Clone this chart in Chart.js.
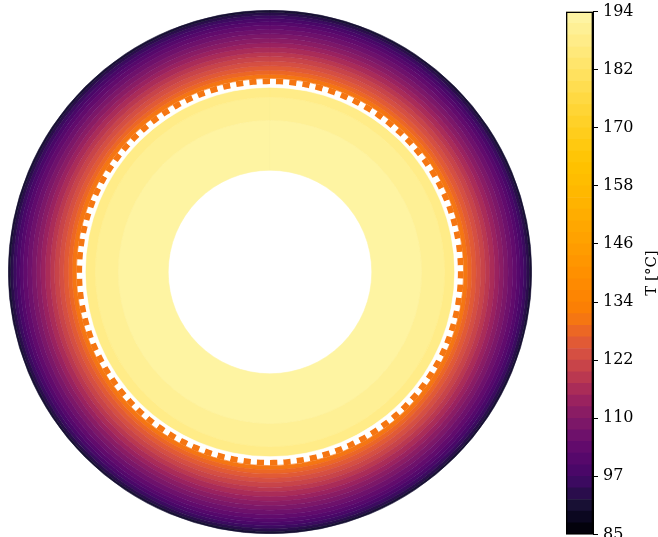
<!DOCTYPE html>
<html>
<head>
<meta charset="utf-8">
<script src="https://cdn.jsdelivr.net/npm/chart.js@4.4.1/dist/chart.umd.min.js"></script>
<style>
  html, body { margin:0; padding:0; background:#fff; overflow:hidden; width:658px; height:537px; }
  #disc { position:absolute; left:8px; top:10px; }
  #cbar { position:absolute; left:566px; top:-3px; }
</style>
</head>
<body>
<canvas id="disc" width="524" height="524"></canvas>
<canvas id="cbar" width="92" height="552"></canvas>
<script>
// contour levels of the temperature field, °C
const levels = [85.00, 87.42, 89.84, 92.27, 94.69, 97.11, 99.53, 101.96, 104.38, 106.80,
  109.22, 111.64, 114.07, 116.49, 118.91, 121.33, 123.76, 126.18, 128.60, 131.02,
  133.44, 135.87, 138.29, 140.71, 143.13, 145.56, 147.98, 150.40, 152.82, 155.24,
  157.67, 160.09, 162.51, 164.93, 167.36, 169.78, 172.20, 174.62, 177.04, 179.47,
  181.89, 184.31, 186.73, 189.16, 191.58, 194.00];
// one colour per band, bottom to top
const bandColors = ['#03020c', '#0b0720', '#181034', '#2a0d4c', '#3c0a60', '#4a0768', '#56086b', '#620b6c',
  '#6e116b', '#7c1768', '#8a1c64', '#9a225f', '#aa2c58', '#ba3850', '#c84449', '#d54f42',
  '#e15a35', '#ec6724', '#f57612', '#fb7f05', '#fd8502', '#fe8a01', '#ff9000', '#ff9600',
  '#ff9c00', '#ffa200', '#ffa700', '#ffad00', '#ffb300', '#ffb800', '#ffbd00', '#ffc100',
  '#ffc506', '#ffc910', '#ffcd1c', '#ffd128', '#ffd535', '#ffd942', '#ffdd50', '#ffe15e',
  '#ffe56c', '#ffe97a', '#ffec88', '#fef095', '#fef4a2'];
const tickValues = [85, 97.11, 109.22, 121.33, 133.44, 145.56, 157.67, 169.78, 181.89, 194];
const tickLabels = ['85', '97', '110', '122', '134', '146', '158', '170', '182', '194'];

// radial layout of the section, mm from the centre
const boreRadius = 38.9;
const coreEdges = [38.9, 58.0, 66.8, 70.6];
const coreTemps = [192.5, 190.0, 187.5];
const sleeveEdges = [70.6, 71.8, 74.0];      // thin white line, then the toothed ring
const toothCount = 90;
const toothGapTemp = 129.8;
const shellEdges = [74.0, 75.6, 77.1, 78.8, 80.5, 82.3, 84.0, 85.9, 87.6, 89.3,
  91.0, 92.7, 94.3, 95.6, 96.9, 98.1, 99.2, 100.0];
const shellTemps = [129.8, 127.4, 125.0, 122.5, 120.1, 117.7, 115.3, 112.8, 110.4,
  108.0, 105.6, 103.2, 100.7, 98.3, 95.9, 93.5, 91.0];

function colorFor(t) {
  for (let i = 0; i < bandColors.length; i++) {
    if (t < levels[i + 1]) return bandColors[i];
  }
  return bandColors[bandColors.length - 1];
}

function ring(rIn, rOut, color) {
  return { data: [1], backgroundColor: color, borderColor: color, borderWidth: 0.6, weight: rOut - rIn };
}

// ---------- disc ----------
const rings = [];   // outermost first
for (let i = shellTemps.length - 1; i >= 0; i--)
  rings.push(ring(shellEdges[i], shellEdges[i + 1], colorFor(shellTemps[i])));

const teeth = [], teethColors = [];
for (let i = 0; i < toothCount; i++) {
  teeth.push(0.45, 0.55);
  teethColors.push('#ffffff', colorFor(toothGapTemp));
}
rings.push({ data: teeth, backgroundColor: teethColors, borderWidth: 0, weight: sleeveEdges[2] - sleeveEdges[1] });
rings.push(ring(sleeveEdges[0], sleeveEdges[1], '#ffffff'));

for (let i = coreTemps.length - 1; i >= 0; i--)
  rings.push(ring(coreEdges[i], coreEdges[i + 1], colorFor(coreTemps[i])));

new Chart(document.getElementById('disc'), {
  type: 'doughnut',
  data: { datasets: rings },
  options: {
    responsive: false, animation: false, events: [],
    cutout: (boreRadius / shellEdges[shellEdges.length - 1] * 100) + '%',
    layout: { padding: 0 },
    plugins: { legend: { display: false }, tooltip: { enabled: false } }
  }
});

// ---------- colour bar ----------
const serif = 'DejaVu Serif';
const cbarSets = [{
  data: [[levels[0], levels[levels.length - 1]]],
  backgroundColor: 'rgba(0,0,0,0)', borderColor: '#000', borderWidth: 1, borderSkipped: false,
  grouped: false, barPercentage: 1, categoryPercentage: 1
}];
bandColors.forEach((c, i) => cbarSets.push({
  data: [[levels[i], levels[i + 1]]], backgroundColor: c, borderWidth: 0,
  grouped: false, barPercentage: 1, categoryPercentage: 1
}));

const cbarTitle = {
  id: 'cbarTitle',
  afterDraw(chart) {
    const y = chart.scales.y, ctx = chart.ctx;
    ctx.save();
    ctx.font = '15px "' + serif + '"';
    ctx.fillStyle = '#000';
    ctx.textAlign = 'center';
    ctx.textBaseline = 'middle';
    ctx.translate(y.right + 18, (chart.chartArea.top + chart.chartArea.bottom) / 2);
    ctx.rotate(-Math.PI / 2);
    ctx.fillText('T [°C]', 0, 0);
    ctx.restore();
  }
};

new Chart(document.getElementById('cbar'), {
  type: 'bar',
  data: { labels: [''], datasets: cbarSets },
  options: {
    responsive: false, animation: false, events: [],
    layout: { padding: { top: 0, right: 24, bottom: 0, left: 0 } },
    plugins: { legend: { display: false }, tooltip: { enabled: false } },
    scales: {
      x: { display: false },
      y: {
        position: 'right', min: levels[0], max: levels[levels.length - 1],
        afterBuildTicks: s => { s.ticks = tickValues.map(v => ({ value: v })); },
        afterFit: s => { s.width = 41; },
        ticks: { callback: (v, i) => tickLabels[i], color: '#000', autoSkip: false,
                 font: { family: serif, size: 16 }, padding: 5 },
        grid: { drawOnChartArea: false, drawTicks: true, tickLength: 5, color: '#000' },
        border: { display: true, color: '#000' }
      }
    }
  },
  plugins: [cbarTitle]
});
</script>
</body>
</html>
